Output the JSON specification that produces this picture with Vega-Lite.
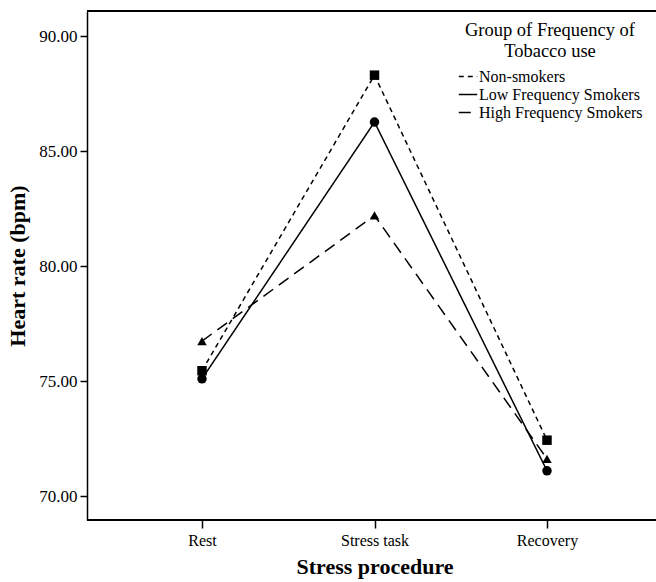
{
  "$schema": "https://vega.github.io/schema/vega-lite/v6.json",
  "width": 569,
  "height": 509,
  "autosize": {"type": "none"},
  "padding": {"left": 87, "top": 11, "right": 0, "bottom": 62},
  "background": "white",
  "config": {
    "view": {"stroke": null},
    "font": "Liberation Serif",
    "axis": {
      "domainColor": "black",
      "domainWidth": 1.5,
      "tickColor": "black",
      "tickWidth": 1.5,
      "labelColor": "black",
      "labelFont": "Liberation Serif",
      "titleFont": "Liberation Serif",
      "titleFontSize": 22,
      "titleFontWeight": "bold",
      "titleColor": "black",
      "grid": false
    },
    "legend": {
      "labelFont": "Liberation Serif",
      "titleFont": "Liberation Serif"
    }
  },
  "data": {
    "values": [
      {"procedure": "Rest", "group": "Non-smokers", "hr": 75.45},
      {"procedure": "Stress task", "group": "Non-smokers", "hr": 88.3},
      {"procedure": "Recovery", "group": "Non-smokers", "hr": 72.43},
      {"procedure": "Rest", "group": "Low Frequency Smokers", "hr": 75.1},
      {"procedure": "Stress task", "group": "Low Frequency Smokers", "hr": 86.26},
      {"procedure": "Recovery", "group": "Low Frequency Smokers", "hr": 71.1},
      {"procedure": "Rest", "group": "High Frequency Smokers", "hr": 76.74},
      {"procedure": "Stress task", "group": "High Frequency Smokers", "hr": 82.2},
      {"procedure": "Recovery", "group": "High Frequency Smokers", "hr": 71.62}
    ]
  },
  "layer": [
    {
      "mark": {"type": "rule", "color": "black", "strokeWidth": 1.5},
      "encoding": {"y": {"datum": 91.09, "type": "quantitative"}}
    },
    {
      "mark": {"type": "rule", "color": "black", "strokeWidth": 1.5},
      "encoding": {"y": {"datum": 68.96, "type": "quantitative"}}
    },
    {
      "mark": {"type": "line", "color": "black", "strokeWidth": 1.5},
      "encoding": {
        "x": {
          "field": "procedure",
          "type": "nominal",
          "sort": ["Rest", "Stress task", "Recovery"],
          "scale": {"type": "point", "range": [115, 460], "padding": 0},
          "axis": {"title": "Stress procedure", "labelAngle": 0, "domain": false, "tickSize": 8, "labelPadding": 4, "labelFontSize": 16, "titlePadding": 8}
        },
        "y": {
          "field": "hr",
          "type": "quantitative",
          "scale": {"domain": [68.96, 91.09], "nice": false, "zero": false},
          "axis": {"title": "Heart rate (bpm)", "values": [70, 75, 80, 85, 90], "format": ".2f", "tickSize": 7, "labelPadding": 3, "labelFontSize": 17, "titlePadding": 9}
        },
        "strokeDash": {
          "field": "group",
          "type": "nominal",
          "scale": {
            "domain": ["Non-smokers", "Low Frequency Smokers", "High Frequency Smokers"],
            "range": [[5, 4], [1, 0], [12, 7]]
          },
          "legend": {
            "title": ["Group of Frequency of", "Tobacco use"],
            "orient": "none",
            "legendX": 371,
            "legendY": 10,
            "padding": 0,
            "titleFontSize": 18.5,
            "titleFontWeight": "normal",
            "titleLineHeight": 21,
            "titleAlign": "center",
            "titleAnchor": "middle",
            "titlePadding": 6,
            "titleColor": "black",
            "labelFontSize": 16,
            "labelColor": "black",
            "labelLimit": 400,
            "labelOffset": 1,
            "symbolType": "stroke",
            "symbolSize": 340,
            "symbolStrokeWidth": 1.5,
            "symbolStrokeColor": "black",
            "rowPadding": 0
          }
        }
      }
    },
    {
      "mark": {"type": "point", "filled": true, "color": "black", "opacity": 1, "size": 90},
      "encoding": {
        "x": {"field": "procedure", "type": "nominal", "sort": ["Rest", "Stress task", "Recovery"]},
        "y": {"field": "hr", "type": "quantitative"},
        "shape": {
          "condition": [
            {"test": "datum.group === 'Non-smokers'", "value": "square"},
            {"test": "datum.group === 'Low Frequency Smokers'", "value": "circle"}
          ],
          "value": "triangle-up"
        }
      }
    }
  ]
}
